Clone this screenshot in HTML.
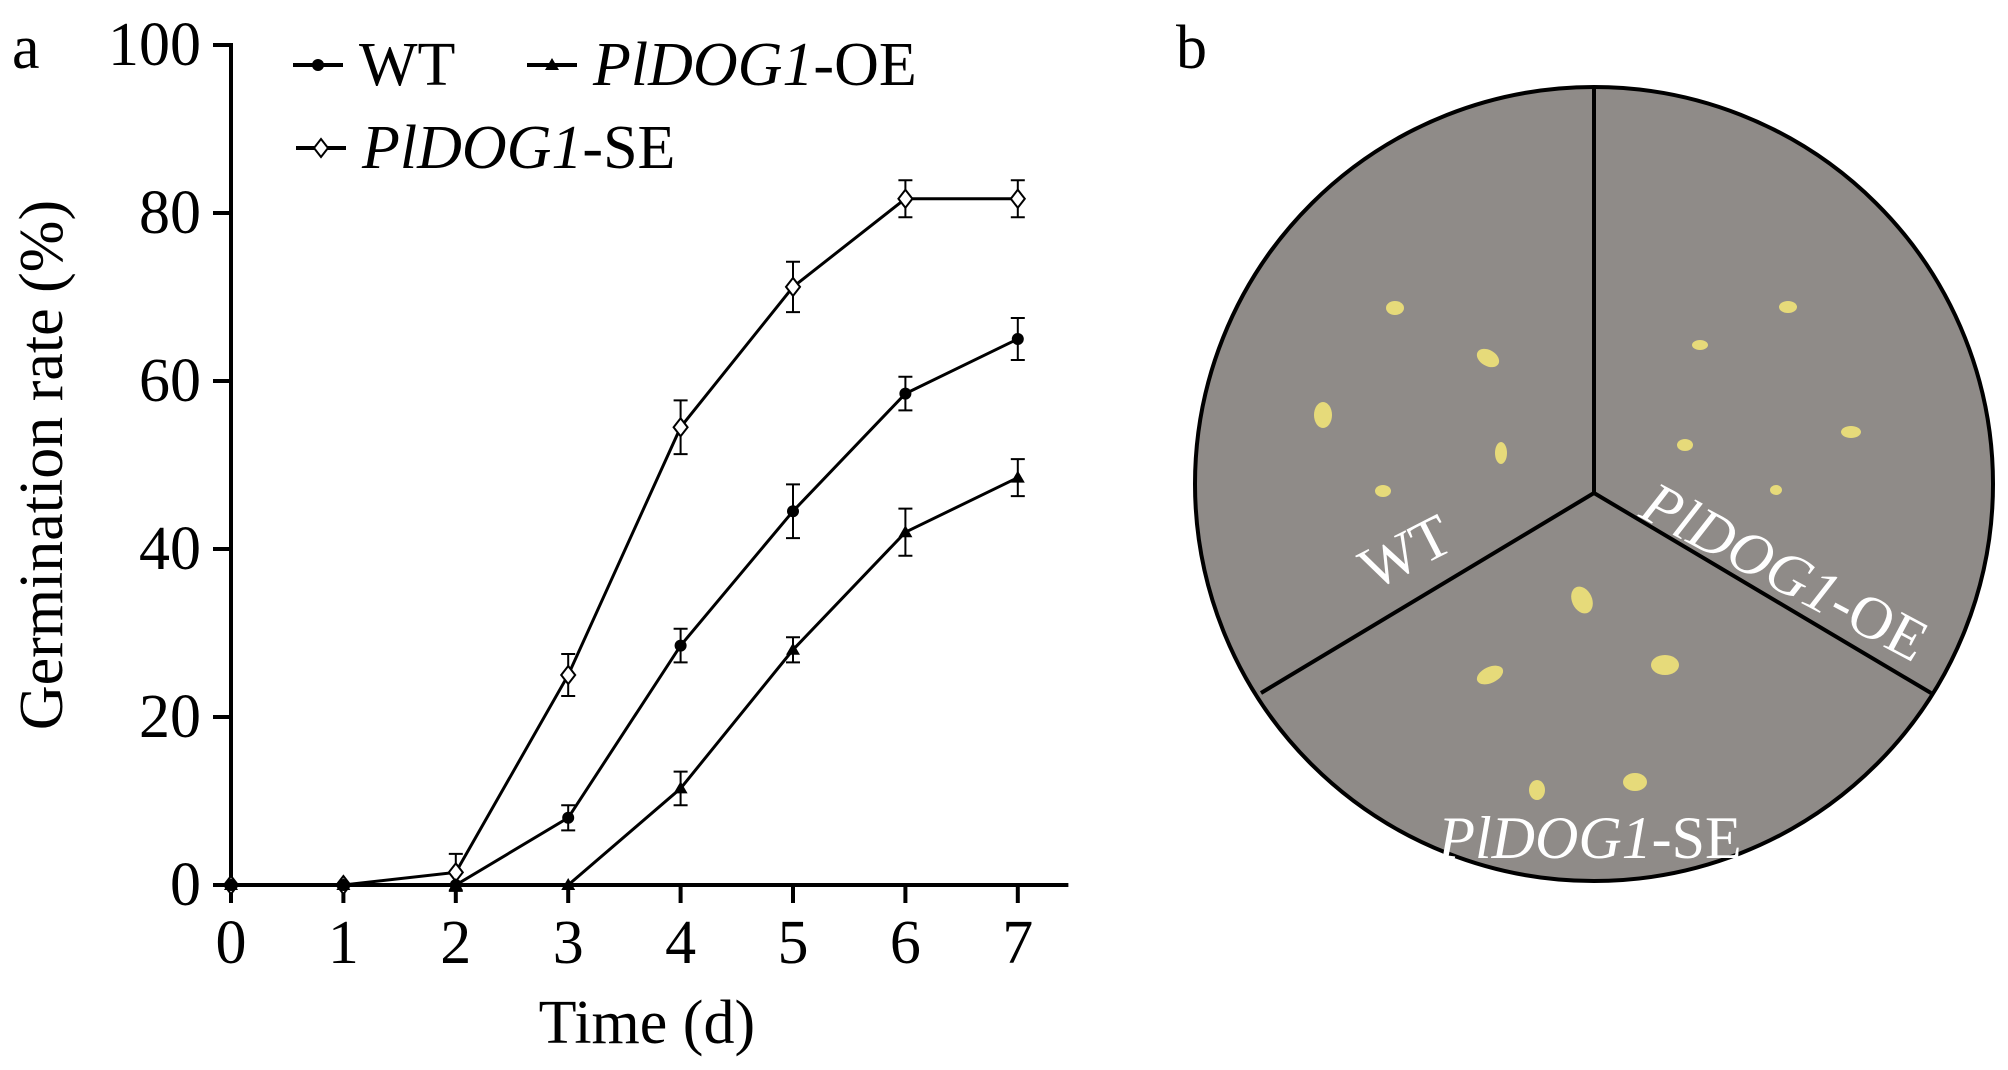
<!DOCTYPE html>
<html><head><meta charset="utf-8"><style>
html,body{margin:0;padding:0;background:#fff;}
svg,svg text{font-family:"Liberation Serif","Times New Roman",serif;}
svg{display:block;}
</style></head><body>
<svg id="fig" width="2008" height="1070" viewBox="0 0 2008 1070" font-family="Liberation Serif, serif">
<text x="12" y="68" font-size="62">a</text>
<text x="1176" y="68" font-size="62">b</text>
<g id="chart"></g>
<g id="plate">
  <ellipse cx="1594" cy="484" rx="399" ry="397" fill="#8f8b88" stroke="#000" stroke-width="4"/>
  <line x1="1594" y1="88" x2="1594" y2="493" stroke="#000" stroke-width="4"/>
  <line x1="1594" y1="493" x2="1261" y2="693" stroke="#000" stroke-width="4"/>
  <line x1="1594" y1="493" x2="1931" y2="693" stroke="#000" stroke-width="4"/>
  <g fill="#e6da7a">
    <ellipse cx="1395" cy="308" rx="9" ry="7"/><ellipse cx="1488" cy="358" rx="12" ry="8" transform="rotate(30 1488 358)"/>
    <ellipse cx="1323" cy="415" rx="9" ry="13"/><ellipse cx="1501" cy="453" rx="6" ry="11"/>
    <ellipse cx="1383" cy="491" rx="8" ry="6"/><ellipse cx="1788" cy="307" rx="9" ry="6"/>
    <ellipse cx="1700" cy="345" rx="8" ry="5"/><ellipse cx="1851" cy="432" rx="10" ry="6"/>
    <ellipse cx="1685" cy="445" rx="8" ry="6"/><ellipse cx="1776" cy="490" rx="6" ry="5"/>
    <ellipse cx="1582" cy="600" rx="10" ry="14" transform="rotate(-25 1582 600)"/>
    <ellipse cx="1490" cy="675" rx="14" ry="8" transform="rotate(-25 1490 675)"/>
    <ellipse cx="1665" cy="665" rx="14" ry="10"/><ellipse cx="1537" cy="790" rx="8" ry="10"/>
    <ellipse cx="1635" cy="782" rx="12" ry="9"/>
  </g>
  <g fill="#fff" font-size="60">
    <text x="1405" y="572" text-anchor="middle" transform="rotate(-27 1405 551)">WT</text>
    <text x="1786" y="592" text-anchor="middle" transform="rotate(28 1786 570)"><tspan font-style="italic">PlDOG1</tspan>-OE</text>
    <text x="1590" y="858" text-anchor="middle"><tspan font-style="italic">PlDOG1</tspan>-SE</text>
  </g>
</g>
</svg>
<script>
const days=[0,1,2,3,4,5,6,7];
const yTicks=[0,20,40,60,80,100];
const wtVals=[0,0,0,8,28.5,44.5,58.5,65];
const wtErr=[0,0,0,1.5,2,3.2,2,2.5];
const oeVals=[0,0,0,0,11.5,28,42,48.5];
const oeErr=[0,0,0,0,2,1.5,2.8,2.2];
const seVals=[0,0,1.5,25,54.5,71.2,81.7,81.7];
const seErr=[0,0,2.2,2.5,3.2,3,2.2,2.2];

const NS="http://www.w3.org/2000/svg";
const g=document.getElementById('chart');
const X0=231,XS=112.4,Y0=885,YS=8.4;
const xs=d=>X0+d*XS, ys=v=>Y0-v*YS;
function mk(t,a,p){const e=document.createElementNS(NS,t);for(const k in a)e.setAttribute(k,a[k]);(p||g).appendChild(e);return e;}

let ax=mk('line',{x1:X0,y1:ys(100)-2,x2:X0,y2:Y0+2,stroke:'#000','stroke-width':4});


ax=mk('line',{x1:X0-18,y1:Y0,x2:xs(7.45),y2:Y0,stroke:'#000','stroke-width':4});


yTicks.forEach(v=>{
  const t=mk('line',{x1:X0-18,y1:ys(v),x2:X0,y2:ys(v),stroke:'#000','stroke-width':4});
  
  
  const l=mk('text',{x:X0-30,y:ys(v)+20,'font-size':62,'text-anchor':'end'});l.textContent=v;
  
  
});
days.forEach(d=>{
  const t=mk('line',{x1:xs(d),y1:Y0,x2:xs(d),y2:Y0+18,stroke:'#000','stroke-width':4});
  
  
  const l=mk('text',{x:xs(d),y:Y0+78,'font-size':62,'text-anchor':'middle'});l.textContent=d;
  
  
});
let tt=mk('text',{x:xs(3.7),y:1043,'font-size':62,'text-anchor':'middle'});tt.textContent='Time (d)';


tt=mk('text',{x:0,y:0,'font-size':62,'text-anchor':'middle',transform:'translate(62 465) rotate(-90)'});tt.textContent='Germination rate (%)';



function marker(type,x,y,p){
  if(type==='dot')return mk('circle',{cx:x,cy:y,r:6,fill:'#000'},p);
  if(type==='tri')return mk('polygon',{points:`${x},${y-7} ${x-7},${y+5} ${x+7},${y+5}`,fill:'#000'},p);
  return mk('polygon',{points:`${x},${y-9} ${x+7},${y} ${x},${y+9} ${x-7},${y}`,fill:'#fff',stroke:'#000','stroke-width':2},p);
}
function series(name,vals,err,type){
  const sg=mk('g',{});
  
  
  const ln=mk('polyline',{points:days.map((d,i)=>xs(d)+','+ys(vals[i])).join(' '),fill:'none',stroke:'#000','stroke-width':3},sg);
  
  
  days.forEach((d,i)=>{
    if(err[i]>0){
      const x=xs(d),a=ys(vals[i]+err[i]),b=ys(vals[i]-err[i]);
      const e=mk('path',{d:`M${x},${a}V${b}M${x-7},${a}H${x+7}M${x-7},${b}H${x+7}`,stroke:'#000','stroke-width':2,fill:'none'},sg);
      
      
    }
    const m=marker(type,xs(d),ys(vals[i]),sg);
    
    
  });
}
series('se',seVals,seErr,'dia');
series('oe',oeVals,oeErr,'tri');
series('wt',wtVals,wtErr,'dot');

function legend(name,x,y,type,label,italicPart){
  const lg=mk('g',{});
  
  
  mk('line',{x1:x,y1:y,x2:x+50,y2:y,stroke:'#000','stroke-width':4},lg);
  marker(type,x+25,y,lg);
  const t=mk('text',{x:x+66,y:y+20,'font-size':62},lg);
  if(italicPart){const s=mk('tspan',{'font-style':'italic'},t);s.textContent=italicPart;t.appendChild(document.createTextNode(label));}
  else t.textContent=label;
}
legend('wt',293,65,'dot','WT');
legend('oe',527,65,'tri','-OE','PlDOG1');
legend('se',296,148,'dia','-SE','PlDOG1');
</script>
</body></html>
